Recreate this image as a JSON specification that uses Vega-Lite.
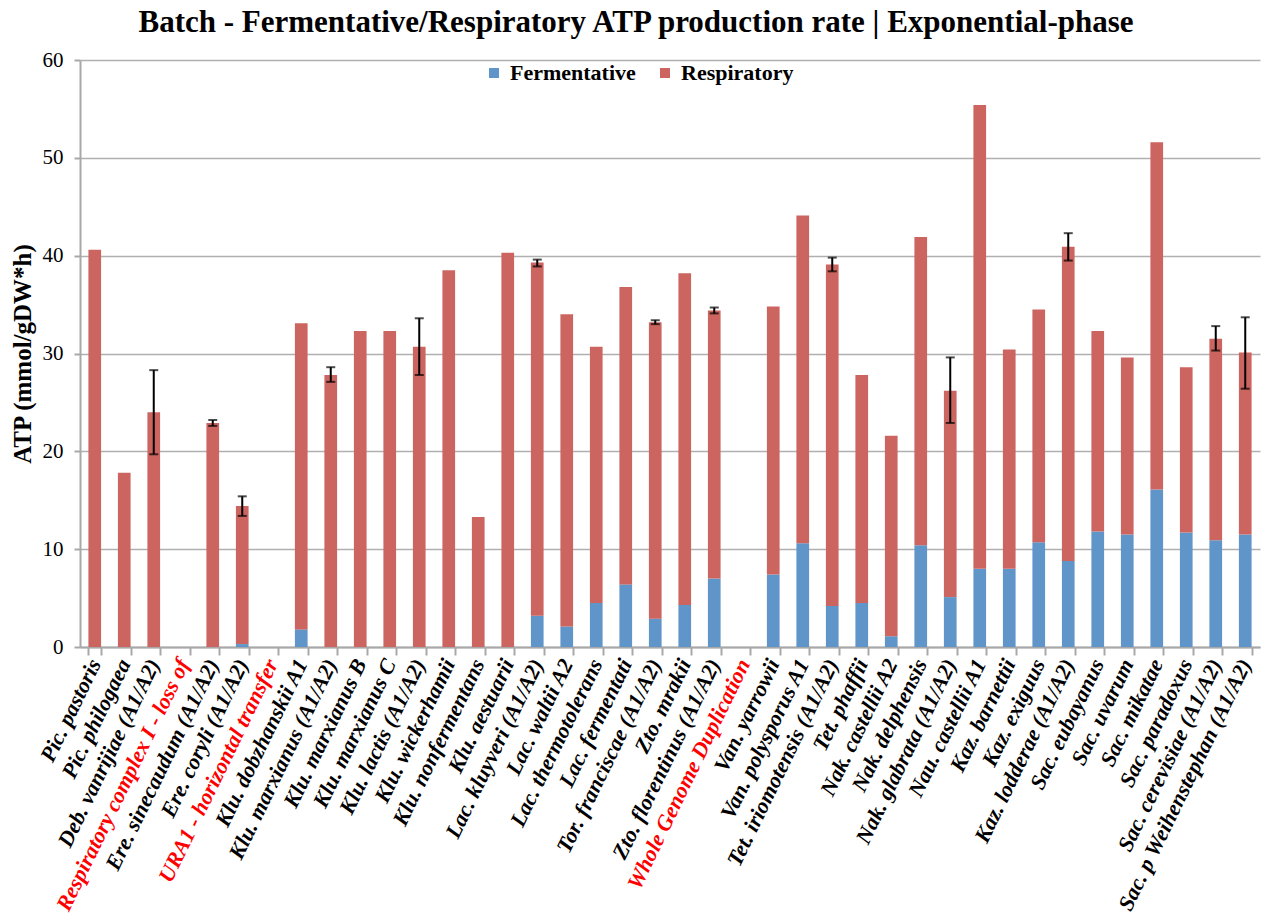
{
  "$schema": "https://vega.github.io/schema/vega-lite/v6.json",
  "width": 1180,
  "height": 587,
  "autosize": "none",
  "padding": {"left": 80, "top": 60, "right": 5, "bottom": 277},
  "background": "white",
  "title": {
    "text": "Batch - Fermentative/Respiratory  ATP production rate | Exponential-phase",
    "font": "Liberation Serif",
    "fontSize": 31,
    "fontWeight": "bold",
    "color": "black",
    "anchor": "middle",
    "frame": "group",
    "dx": -34,
    "offset": 10
  },
  "config": {
    "view": {"stroke": null},
    "axis": {"domainColor": "#a8a8a8", "tickColor": "#a8a8a8", "domainWidth": 2, "tickWidth": 2}
  },
  "datasets": {
    "bars": [
      {"species": "Pic. pastoris", "type": "Respiratory", "value": 40.6},
      {"species": "Pic. philogaea", "type": "Respiratory", "value": 17.8},
      {"species": "Deb. vanrijiae (A1/A2)", "type": "Respiratory", "value": 24.0},
      {"species": "Ere. sinecaudum (A1/A2)", "type": "Respiratory", "value": 22.9},
      {"species": "Ere. coryli (A1/A2)", "type": "Fermentative", "value": 0.3},
      {"species": "Ere. coryli (A1/A2)", "type": "Respiratory", "value": 14.1},
      {"species": "Klu. dobzhanskii A1", "type": "Fermentative", "value": 1.8},
      {"species": "Klu. dobzhanskii A1", "type": "Respiratory", "value": 31.3},
      {"species": "Klu. marxianus (A1/A2)", "type": "Respiratory", "value": 27.8},
      {"species": "Klu. marxianus B", "type": "Respiratory", "value": 32.3},
      {"species": "Klu. marxianus C", "type": "Respiratory", "value": 32.3},
      {"species": "Klu. lactis (A1/A2)", "type": "Respiratory", "value": 30.7},
      {"species": "Klu. wickerhamii", "type": "Respiratory", "value": 38.5},
      {"species": "Klu. nonfermentans", "type": "Respiratory", "value": 13.3},
      {"species": "Klu. aestuarii", "type": "Respiratory", "value": 40.3},
      {"species": "Lac. kluyveri (A1/A2)", "type": "Fermentative", "value": 3.2},
      {"species": "Lac. kluyveri (A1/A2)", "type": "Respiratory", "value": 36.1},
      {"species": "Lac. waltii A2", "type": "Fermentative", "value": 2.1},
      {"species": "Lac. waltii A2", "type": "Respiratory", "value": 31.9},
      {"species": "Lac. thermotolerans", "type": "Fermentative", "value": 4.5},
      {"species": "Lac. thermotolerans", "type": "Respiratory", "value": 26.2},
      {"species": "Lac. fermentati", "type": "Fermentative", "value": 6.4},
      {"species": "Lac. fermentati", "type": "Respiratory", "value": 30.4},
      {"species": "Tor. franciscae (A1/A2)", "type": "Fermentative", "value": 2.9},
      {"species": "Tor. franciscae (A1/A2)", "type": "Respiratory", "value": 30.3},
      {"species": "Zto. mrakii", "type": "Fermentative", "value": 4.3},
      {"species": "Zto. mrakii", "type": "Respiratory", "value": 33.9},
      {"species": "Zto. florentinus (A1/A2)", "type": "Fermentative", "value": 7.0},
      {"species": "Zto. florentinus (A1/A2)", "type": "Respiratory", "value": 27.4},
      {"species": "Van. yarrowii", "type": "Fermentative", "value": 7.4},
      {"species": "Van. yarrowii", "type": "Respiratory", "value": 27.4},
      {"species": "Van. polysporus A1", "type": "Fermentative", "value": 10.6},
      {"species": "Van. polysporus A1", "type": "Respiratory", "value": 33.5},
      {"species": "Tet. iriomotensis (A1/A2)", "type": "Fermentative", "value": 4.2},
      {"species": "Tet. iriomotensis (A1/A2)", "type": "Respiratory", "value": 34.9},
      {"species": "Tet. phaffii", "type": "Fermentative", "value": 4.5},
      {"species": "Tet. phaffii", "type": "Respiratory", "value": 23.3},
      {"species": "Nak. castellii A2", "type": "Fermentative", "value": 1.1},
      {"species": "Nak. castellii A2", "type": "Respiratory", "value": 20.5},
      {"species": "Nak. delphensis", "type": "Fermentative", "value": 10.4},
      {"species": "Nak. delphensis", "type": "Respiratory", "value": 31.5},
      {"species": "Nak. glabrata (A1/A2)", "type": "Fermentative", "value": 5.1},
      {"species": "Nak. glabrata (A1/A2)", "type": "Respiratory", "value": 21.1},
      {"species": "Nau. castellii A1", "type": "Fermentative", "value": 8.0},
      {"species": "Nau. castellii A1", "type": "Respiratory", "value": 47.4},
      {"species": "Kaz. barnettii", "type": "Fermentative", "value": 8.0},
      {"species": "Kaz. barnettii", "type": "Respiratory", "value": 22.4},
      {"species": "Kaz. exiguus", "type": "Fermentative", "value": 10.7},
      {"species": "Kaz. exiguus", "type": "Respiratory", "value": 23.8},
      {"species": "Kaz. lodderae (A1/A2)", "type": "Fermentative", "value": 8.8},
      {"species": "Kaz. lodderae (A1/A2)", "type": "Respiratory", "value": 32.1},
      {"species": "Sac. eubayanus", "type": "Fermentative", "value": 11.8},
      {"species": "Sac. eubayanus", "type": "Respiratory", "value": 20.5},
      {"species": "Sac. uvarum", "type": "Fermentative", "value": 11.5},
      {"species": "Sac. uvarum", "type": "Respiratory", "value": 18.1},
      {"species": "Sac. mikatae", "type": "Fermentative", "value": 16.1},
      {"species": "Sac. mikatae", "type": "Respiratory", "value": 35.5},
      {"species": "Sac. paradoxus", "type": "Fermentative", "value": 11.7},
      {"species": "Sac. paradoxus", "type": "Respiratory", "value": 16.9},
      {"species": "Sac. cerevisiae (A1/A2)", "type": "Fermentative", "value": 10.9},
      {"species": "Sac. cerevisiae (A1/A2)", "type": "Respiratory", "value": 20.6},
      {"species": "Sac. p Weihenstephan (A1/A2)", "type": "Fermentative", "value": 11.5},
      {"species": "Sac. p Weihenstephan (A1/A2)", "type": "Respiratory", "value": 18.6}
    ],
    "errors": [
      {"species": "Deb. vanrijiae (A1/A2)", "lo": 19.7, "hi": 28.3},
      {"species": "Ere. sinecaudum (A1/A2)", "lo": 22.6, "hi": 23.2},
      {"species": "Ere. coryli (A1/A2)", "lo": 13.4, "hi": 15.4},
      {"species": "Klu. marxianus (A1/A2)", "lo": 27.1, "hi": 28.6},
      {"species": "Klu. lactis (A1/A2)", "lo": 27.8, "hi": 33.6},
      {"species": "Lac. kluyveri (A1/A2)", "lo": 38.9, "hi": 39.6},
      {"species": "Tor. franciscae (A1/A2)", "lo": 33.0, "hi": 33.4},
      {"species": "Zto. florentinus (A1/A2)", "lo": 34.1, "hi": 34.7},
      {"species": "Tet. iriomotensis (A1/A2)", "lo": 38.4, "hi": 39.8},
      {"species": "Nak. glabrata (A1/A2)", "lo": 22.9, "hi": 29.6},
      {"species": "Kaz. lodderae (A1/A2)", "lo": 39.5, "hi": 42.3},
      {"species": "Sac. cerevisiae (A1/A2)", "lo": 30.3, "hi": 32.8},
      {"species": "Sac. p Weihenstephan (A1/A2)", "lo": 26.4, "hi": 33.7}
    ]
  },
  "encoding": {
    "x": {
      "field": "species",
      "type": "nominal",
      "scale": {
        "domain": ["Pic. pastoris", "Pic. philogaea", "Deb. vanrijiae (A1/A2)", "Respiratory complex I - loss of", "Ere. sinecaudum (A1/A2)", "Ere. coryli (A1/A2)", "URA1 - horizontal transfer", "Klu. dobzhanskii A1", "Klu. marxianus (A1/A2)", "Klu. marxianus B", "Klu. marxianus C", "Klu. lactis (A1/A2)", "Klu. wickerhamii", "Klu. nonfermentans", "Klu. aestuarii", "Lac. kluyveri (A1/A2)", "Lac. waltii A2", "Lac. thermotolerans", "Lac. fermentati", "Tor. franciscae (A1/A2)", "Zto. mrakii", "Zto. florentinus (A1/A2)", "Whole Genome Duplication", "Van. yarrowii", "Van. polysporus A1", "Tet. iriomotensis (A1/A2)", "Tet. phaffii", "Nak. castellii A2", "Nak. delphensis", "Nak. glabrata (A1/A2)", "Nau. castellii A1", "Kaz. barnettii", "Kaz. exiguus", "Kaz. lodderae (A1/A2)", "Sac. eubayanus", "Sac. uvarum", "Sac. mikatae", "Sac. paradoxus", "Sac. cerevisiae (A1/A2)", "Sac. p Weihenstephan (A1/A2)"],
        "paddingInner": 0.57,
        "paddingOuter": 0.285
      },
      "axis": {
        "title": null,
        "tickBand": "extent",
        "tickSize": 8,
        "labelAngle": -64,
        "labelAlign": "right",
        "labelBaseline": "middle",
        "labelPadding": 5,
        "labelFont": "Liberation Serif",
        "labelFontSize": 22,
        "labelFontWeight": "bold",
        "labelFontStyle": "italic",
        "labelLimit": 400,
        "labelOverlap": false,
        "labelColor": {
          "condition": {"test": "indexof(['Respiratory complex I - loss of','URA1 - horizontal transfer','Whole Genome Duplication'], datum.value) >= 0", "value": "#ff0000"},
          "value": "black"
        }
      }
    }
  },
  "layer": [
    {
      "data": {"name": "bars"},
      "mark": {"type": "bar"},
      "encoding": {
        "y": {
          "field": "value",
          "type": "quantitative",
          "stack": "zero",
          "scale": {"domain": [0, 60], "nice": false},
          "axis": {
            "title": "ATP (mmol/gDW*h)",
            "titleFont": "Liberation Serif",
            "titleFontSize": 25,
            "titleFontWeight": "bold",
            "titleColor": "black",
            "titleX": -58,
            "titleBaseline": "middle",
            "values": [0, 10, 20, 30, 40, 50, 60],
            "labelFont": "Liberation Serif",
            "labelFontSize": 21,
            "labelColor": "black",
            "labelPadding": 11,
            "tickSize": 6,
            "grid": true,
            "gridColor": "#b0b0b0",
            "gridWidth": 1.5
          }
        },
        "color": {
          "field": "type",
          "type": "nominal",
          "scale": {"domain": ["Fermentative", "Respiratory"], "range": ["#6095C9", "#CC6560"]},
          "legend": {
            "title": null,
            "orient": "none",
            "legendX": 403,
            "legendY": 2,
            "direction": "horizontal",
            "symbolType": "square",
            "symbolSize": 100,
            "symbolStrokeWidth": 0,
            "labelFont": "Liberation Serif",
            "labelFontSize": 22,
            "labelFontWeight": "bold",
            "labelColor": "black",
            "labelOffset": 5,
            "columnPadding": 18
          }
        },
        "order": {"field": "type", "sort": "ascending"}
      }
    },
    {
      "data": {"name": "errors"},
      "mark": {"type": "rule", "color": "black", "strokeWidth": 2},
      "encoding": {
        "y": {"field": "lo", "type": "quantitative"},
        "y2": {"field": "hi"}
      }
    },
    {
      "data": {"name": "errors"},
      "mark": {"type": "tick", "color": "black", "thickness": 2, "size": 9},
      "encoding": {"y": {"field": "hi", "type": "quantitative"}}
    },
    {
      "data": {"name": "errors"},
      "mark": {"type": "tick", "color": "black", "thickness": 2, "size": 9},
      "encoding": {"y": {"field": "lo", "type": "quantitative"}}
    }
  ]
}
